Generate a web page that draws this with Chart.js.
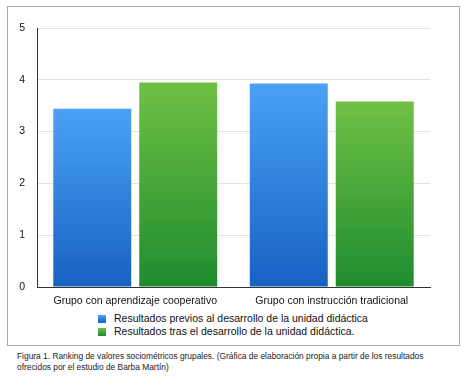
<!DOCTYPE html>
<html>
<head>
<meta charset="utf-8">
<script src="https://cdn.jsdelivr.net/npm/chart.js@4.4.0/dist/chart.umd.min.js"></script>
<style>
  body { margin: 0; background: #fff; font-family: "Liberation Sans", Arial, sans-serif; }
  #marco { position: absolute; left: 7px; top: 6px; width: 453px; height: 340px; border: 1.5px solid #a8a8a8; box-sizing: border-box; }
  #caja { position: absolute; left: 8px; top: 8px; width: 450px; height: 300px; }
  #leyenda { position: absolute; left: 98px; top: 312px; font-size: 10.5px; color: #111; }
  .item { height: 13px; line-height: 13px; display: flex; align-items: center; }
  .cuadro { width: 8px; height: 8px; margin-right: 8px; }
  #pie { position: absolute; left: 17px; top: 351px; font-size: 8.4px; line-height: 10.5px; color: #222; }
</style>
</head>
<body>
<div id="marco"></div>
<div id="caja"><canvas id="graficoRanking"></canvas></div>
<div id="leyenda"></div>
<div id="pie">Figura 1. Ranking de valores sociométricos grupales. (Gráfica de elaboración propia a partir de los resultados<br>ofrecidos por el estudio de Barba Martín)</div>
<script>
// datos
const categorias = ["Grupo con aprendizaje cooperativo", "Grupo con instrucción tradicional"];
const series = [
  "Resultados previos al desarrollo de la unidad didáctica",
  "Resultados tras el desarrollo de la unidad didáctica."
];
const valoresPrevios = [3.44, 3.93];
const valoresTras = [3.95, 3.58];
const ticksY = [0, 1, 2, 3, 4, 5];

const colores = [
  { arriba: "#4aa2f4", abajo: "#1761c2" },
  { arriba: "#70c044", abajo: "#1f8c30" },
];

function degradado(i) {
  return function (ctx) {
    const chart = ctx.chart;
    const y = chart.scales && chart.scales.y;
    if (!y || typeof ctx.raw !== "number") return colores[i].arriba;
    const tope = y.getPixelForValue(ctx.raw);
    const base = y.getPixelForValue(0);
    if (!isFinite(tope) || !isFinite(base)) return colores[i].arriba;
    const g = chart.ctx.createLinearGradient(0, tope, 0, base);
    g.addColorStop(0, colores[i].arriba);
    g.addColorStop(1, colores[i].abajo);
    return g;
  };
}

// leyenda en html, alineada a la izquierda como en la figura
const leyenda = document.getElementById("leyenda");
series.forEach((s, i) => {
  const fila = document.createElement("div");
  fila.className = "item";
  fila.innerHTML = '<span class="cuadro" style="background:linear-gradient(' +
    colores[i].arriba + ',' + colores[i].abajo + ')"></span><span>' + s + "</span>";
  leyenda.appendChild(fila);
});

const ctx = document.getElementById("graficoRanking").getContext("2d");
new Chart(ctx, {
  type: "bar",
  data: {
    labels: categorias,
    datasets: [
      { label: series[0], data: valoresPrevios, backgroundColor: degradado(0) },
      { label: series[1], data: valoresTras, backgroundColor: degradado(1) },
    ],
  },
  options: {
    responsive: true,
    maintainAspectRatio: false,
    animation: false,
    barPercentage: 0.907,
    categoryPercentage: 0.875,
    layout: { padding: { left: 0, right: 28, top: 20, bottom: 0 } },
    plugins: {
      legend: { display: false },
      tooltip: { enabled: false },
    },
    scales: {
      x: {
        grid: { display: false },
        border: { color: "#333", width: 1 },
        ticks: { color: "#111", font: { family: "Liberation Sans", size: 10.5 }, padding: 0 },
        afterFit: (s) => { s.height = 21; },
      },
      y: {
        min: 0,
        max: 5,
        afterBuildTicks: (s) => { s.ticks = ticksY.map((v) => ({ value: v })); },
        grid: { color: "#e2e2e2", drawTicks: false },
        border: { color: "#333", width: 1 },
        ticks: { color: "#111", font: { family: "Liberation Sans", size: 10.5 }, padding: 12 },
        afterFit: (s) => { s.width = 29; },
      },
    },
  },
});
</script>
</body>
</html>
